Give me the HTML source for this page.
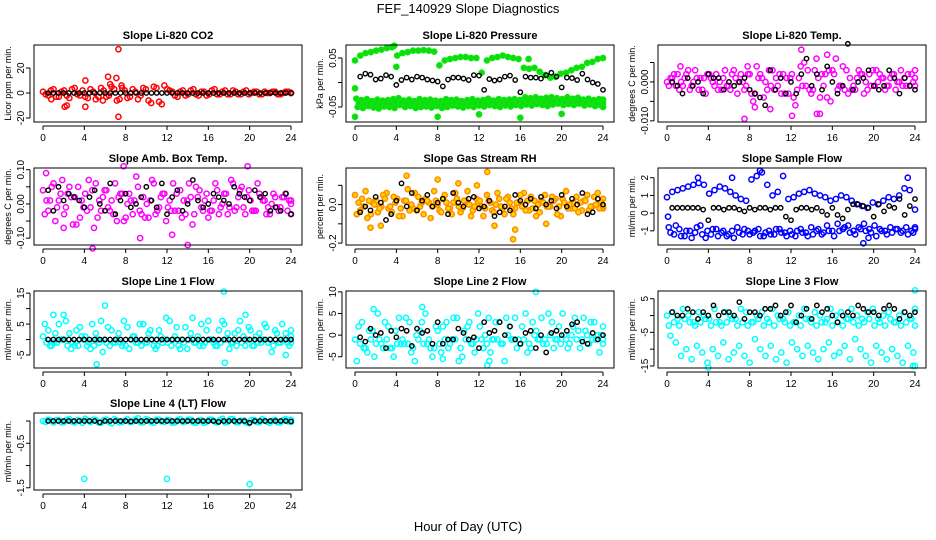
<!DOCTYPE html>
<html><head><meta charset="utf-8"><style>
body{margin:0;background:#fff;}
svg{display:block;font-family:"Liberation Sans",sans-serif;}
</style></head><body>
<svg id="c" width="936" height="540" viewBox="0 0 936 540">
<text x="468" y="13" text-anchor="middle" font-size="13">FEF_140929  Slope Diagnostics</text>
<text x="468" y="531" text-anchor="middle" font-size="13">Hour of Day (UTC)</text>
</svg>
<script>
const xTicks=[0,4,8,12,16,20,24];
// Panel 1 CO2
const co2A=[1,-2,3,-3,2,-4,4,-2,-3,3,-5,4,-3,5,-6,4,-4,3,-5,4,-6,5,-7,6,2,-2,1,-2,2,-1,1,-2,2,-1,1,-1,2,-1,1,-1,1,-1,1,0,1,-1,1,0];
const co2B=[-1,2,-3,1,-2,3,-1,2,-4,1,-3,2,-2,3,-5,2,-3,1,-2,3,-8,4,-9,3,1,-3,2,-1,3,-2,1,-1,3,-1,2,-1,1,-1,2,0,1,-1,0,1,-1,0,1,0];
const co2OutT=[7.3,7.3,6.3,7.1,4.1,4.1,2.1,2.3,0.8,6.5,7.6,5.8];
const co2OutV=[35,-19,13,12,10,-11,-11,-10,-5,7,6,-6];
const co2Blk=[0,0,0,0,0,0,0,0,0,0,0,0,0,0,0,0,0,0,0,0,0,0,0,0,0,0,0,0,0,0,0,0,0,0,0,0,0,0,0,0,0,0,0,0,0,0,0,0];
// Panel 2 Pressure
const prU=[0.045,0.055,0.06,0.062,0.065,0.067,0.07,0.072,0.055,0.06,0.062,0.065,0.065,0.066,0.065,0.063,0.035,0.045,0.048,0.05,0.052,0.052,0.05,0.05,0.02,0.045,0.05,0.052,0.055,0.052,0.05,0.048,0.03,0.028,0.03,0.022,0.015,0.01,0.012,0.018,0.02,0.025,0.03,0.032,0.04,0.042,0.048,0.05];
const prL1=[-0.033,-0.036,-0.034,-0.038,-0.035,-0.037,-0.036,-0.034,-0.032,-0.037,-0.035,-0.038,-0.034,-0.036,-0.035,-0.037,-0.038,-0.034,-0.036,-0.035,-0.038,-0.036,-0.034,-0.037,-0.036,-0.033,-0.037,-0.034,-0.036,-0.035,-0.034,-0.036,-0.03,-0.032,-0.03,-0.033,-0.031,-0.03,-0.032,-0.034,-0.03,-0.033,-0.031,-0.035,-0.033,-0.036,-0.034,-0.035];
const prL2=[-0.05,-0.052,-0.048,-0.051,-0.053,-0.049,-0.05,-0.052,-0.046,-0.05,-0.048,-0.052,-0.05,-0.049,-0.051,-0.048,-0.052,-0.05,-0.047,-0.049,-0.051,-0.048,-0.05,-0.047,-0.049,-0.046,-0.048,-0.05,-0.047,-0.049,-0.046,-0.048,-0.045,-0.047,-0.044,-0.046,-0.048,-0.045,-0.043,-0.046,-0.044,-0.046,-0.043,-0.047,-0.045,-0.048,-0.046,-0.049];
const prL3=[-0.042,-0.044,-0.041,-0.043,-0.045,-0.042,-0.044,-0.041,-0.04,-0.043,-0.042,-0.045,-0.041,-0.043,-0.042,-0.044,-0.045,-0.042,-0.041,-0.043,-0.044,-0.042,-0.043,-0.041,-0.042,-0.04,-0.043,-0.041,-0.042,-0.043,-0.04,-0.042,-0.038,-0.04,-0.037,-0.04,-0.039,-0.038,-0.037,-0.04,-0.038,-0.04,-0.037,-0.041,-0.039,-0.042,-0.04,-0.042];
const prOutT=[0,0,4,8,12,16,20,24,3.8,16.8];
const prOutV=[-0.07,-0.012,0.032,-0.07,-0.065,-0.072,-0.064,-0.05,0.075,0.048];
const prBlk=[0.012,0.018,0.016,0.006,0.008,0.015,0.012,-0.005,0.005,0.01,0.006,0.012,0.01,0.006,0.004,0.002,-0.008,0.006,0.01,0.01,0.008,0.005,0.015,0.014,-0.015,0.007,0.004,0.006,0.012,0.014,0.005,-0.02,0.012,0.01,0.01,0.008,0.015,0.02,0.012,-0.01,0.01,0.009,0.005,0.018,0.006,0,-0.003,-0.015];
// Panel 3 Li-820 Temp (x0.001)
const tmA=[0,1,2,-1,3,0,-2,1,2,-1,0,3,-2,1,2,-1,-3,4,1,-2,3,-1,2,-3,-4,1,5,-2,3,-4,2,-5,6,-1,3,-2,1,2,-2,3,0,1,-1,2,0,1,-1,3];
const tmB=[-1,2,-2,1,-2,3,1,-3,1,2,-2,-1,2,-3,0,2,-5,1,-4,3,-2,2,-3,1,-6,4,-1,-3,6,2,-4,3,-2,4,-3,-1,3,-3,2,-1,2,-2,1,-2,3,-1,2,-1];
const tmC=[1,-1,0,2,-1,1,-2,2,0,-2,1,-1,3,0,-2,2,-3,2,0,-1,1,-3,1,2,-2,-1,3,-2,1,-1,3,2,-1,-2,1,-2,2,0,-1,3,1,-1,2,0,-1,2,0,1];
const tmOutT=[7.5,12.1,14.5,14.8,13,15.5,10,8.5,7.8,1.3];
const tmOutV=[-9.5,-8.7,-8.2,-8.2,8.3,7,-7,-6.5,4,4];
const tmBlk=[0,-1,-3,1,-1,0,-3,2,1,1,-2,0,-1,0,1,-2,-3,-4,-6,3,-2,1,-3,0,-3,2,6,-1,2,-2,4,0,-3,-1,9.8,-2,0,1,3,-1,-2,-1,3,1,-3,1,-1,-2];
// Panel 4 Amb box temp (x0.01)
const amA=[4,-2,6,1,-3,5,2,-4,3,-1,6,-2,4,1,-5,3,0,-3,5,2,-4,6,-1,3,1,-2,4,-3,2,5,-1,3,-2,4,0,-3,6,2,-1,4,-2,3,1,-3,2,-1,3,0];
const amB=[-3,1,-5,3,-1,2,-6,1,-2,4,-4,2,-1,-3,2,-5,3,1,-2,-4,1,-3,2,-5,-2,3,-4,1,-6,2,-2,-4,1,-3,3,-1,-2,4,-3,1,-2,2,-3,0,-1,2,-2,1];
const amC=[1,5,-1,7,3,-6,5,-1,7,-7,1,4,-2,6,3,-4,1,8,-3,0,7,-2,3,-1,6,-2,1,6,-3,4,1,-2,6,-1,3,7,-1,5,2,-2,6,1,-1,3,-2,2,1,-3];
const amOutT=[0.3,7.8,19.8,4.8,9.4,14,12.5,2];
const amOutV=[9,11,11,-13,-10,-12,-9,-7];
const amBlk=[4,-2,5,1,3,2,1,-1,2,4,0,-2,6,-3,1,3,-1,0,2,5,1,-1,6,-3,2,4,-2,0,7,1,-1,0,3,2,1,0,5,3,2,1,4,2,3,-2,-1,-2,3,-3];
// Panel 5 RH (x0.01)
const rhA=[5,-3,7,-5,2,-1,6,-4,3,-6,8,-2,4,-5,1,7,-3,5,-2,6,-4,2,-6,3,-1,5,-3,6,-2,4,-5,1,6,-3,2,-4,5,-1,3,-6,7,-2,4,-3,5,-1,6,-2];
const rhB=[-5,3,-7,1,-4,5,-2,4,-6,2,-3,6,-1,3,-7,2,-4,1,-5,3,-2,7,-3,1,-6,2,-4,3,-5,1,-2,5,-3,4,-6,2,-1,4,-5,3,-2,1,-4,2,-3,4,-2,3];
const rhC=[1,-1,2,0,-2,3,-1,1,-2,2,0,-3,1,2,-1,0,3,-2,1,-1,2,0,-1,2,-2,1,0,-1,3,-2,1,-1,2,-2,0,1,-1,2,-1,1,0,-2,1,2,-1,0,1,-1];
const rhOutT=[5,12.8,15.3,15.5,1.5,2.5,13.5,18.5,8,10,11.8];
const rhOutV=[15,17,-18,-13,-12,-11,-11,-10,13,11,10];
const rhBlk=[-4,-1,-3,4,1,-8,-5,2,11,-1,6,-3,2,5,-1,1,3,-5,6,1,-1,3,4,-2,-1,2,-6,-4,-1,-3,5,2,0,3,-2,4,0,2,-2,5,-1,3,0,6,-5,-4,3,0];
// Panel 6 Sample flow
const sfU=[0.9,1.2,1.3,1.4,1.5,1.6,1.7,1.6,1.1,1.3,1.5,1.4,1.2,1.0,0.8,0.7,1.9,2.1,2.3,1.6,1.0,1.2,2.1,0.8,0.9,1.1,1.2,1.3,1.1,1.0,0.9,0.7,0.8,1.0,0.9,0.7,0.5,0.4,0.3,0.6,0.5,0.7,0.9,0.8,1.0,1.4,1.3,0.2];
const sfL1=[-0.8,-1.2,-0.9,-1.3,-1.0,-1.1,-0.7,-1.4,-1.2,-0.9,-1.1,-1.3,-1.0,-0.8,-1.2,-1.0,-1.1,-0.9,-1.3,-1.0,-1.2,-0.9,-1.1,-1.0,-1.3,-0.9,-1.1,-0.8,-1.0,-1.2,-0.7,-1.0,-0.6,-0.9,-0.7,-1.0,-0.8,-0.6,-0.9,-0.7,-0.9,-1.0,-0.8,-0.9,-1.1,-0.8,-1.0,-0.9];
const sfL2=[-1.1,-0.7,-1.3,-1.0,-1.4,-0.8,-1.2,-1.0,-0.9,-1.3,-1.0,-1.2,-1.4,-1.1,-0.9,-1.2,-1.0,-1.3,-1.1,-1.2,-0.9,-1.1,-1.3,-1.2,-1.0,-1.1,-1.3,-1.2,-0.9,-1.1,-1.0,-1.3,-1.0,-0.8,-1.1,-1.2,-0.9,-1.0,-1.1,-1.3,-1.0,-1.2,-1.1,-0.9,-1.0,-1.2,-1.1,-0.8];
const sfOutT=[0.1,19,19.5,23.3,6.3,3,9];
const sfOutV=[-0.2,-1.7,-1.4,2.0,2.0,2.0,2.4];
const sfBlk=[0.3,0.3,0.3,0.3,0.3,0.3,0.2,-0.4,0.3,0.3,0.2,0.3,0.3,0.2,0.1,0.3,0.2,0.3,0.3,0.2,0.3,0.3,-0.2,-0.4,0.2,0.3,0.3,0.2,0.3,0.1,-0.1,0.3,-0.1,-0.3,0.2,0.5,0.5,0.4,0.3,-0.2,0.5,0.1,0.4,0.3,0.8,-0.1,0.4,0.8];
// Panel 7 Line 1
const l1A=[1,3,-1,5,0,2,-2,4,1,-3,2,6,-1,3,0,-2,4,1,-1,5,2,-2,3,0,6,1,-3,4,2,-1,5,3,0,-2,6,2,-1,3,1,4,-2,2,5,0,3,-1,2,1];
const l1B=[5,-2,2,0,6,-3,3,1,-2,5,0,-4,4,-1,2,6,-3,1,5,-1,3,-3,1,7,-2,4,0,-3,7,1,-2,6,-1,3,5,-3,2,6,-2,3,1,-1,4,-4,2,5,-1,3];
const l1C=[-1,-2,-1,0,-2,-1,-2,0,-1,-2,-1,0,-2,-1,-1,-2,0,-1,-2,-1,0,-2,-1,-1,0,-2,-1,0,-1,-2,-1,0,-2,-1,0,-1,-2,-1,0,-2,-1,0,-1,-2,-1,0,-2,-1];
const l1OutT=[17.5,6,19.6,5.2,17.6,1,2,23.5];
const l1OutV=[15.5,11,8,-8,-7.5,8,8,-5];
const l1Blk=[0,0,0,0,0,0,0,0,0,0,0,0,0,0,0,0,0,0,0,0,0,0,0,0,0,0,0,0,0,0,0,0,0,0,0,0,0,0,0,0,0,0,0,0,0,0,0,0];
// Panel 8 Line 2
const l2A=[-1,-2,-3,-1,-2,-2,-1,-3,-2,-1,-2,-3,-1,-2,-1,-3,-2,-1,-2,-1,-3,-1,-2,-1,-1,-2,-1,-1,-2,0,-1,-1,-1,-2,0,-1,-1,0,-1,-2,-1,0,-1,-1,0,-1,0,-1];
const l2B=[-6,3,-4,1,5,-3,2,-5,4,-2,3,-6,1,5,-3,2,-4,3,-1,4,-5,2,-2,5,-3,4,-1,3,-6,2,4,-2,5,-3,1,4,-2,3,-1,5,-3,2,1,4,-2,3,-4,2];
const l2C=[2,-3,1,-5,-1,3,-3,1,-2,4,-4,0,3,-2,-5,1,2,-3,4,-6,1,3,-4,2,0,-4,3,-2,4,-1,-3,2,-4,3,-1,-2,5,-3,2,0,-2,4,-3,1,3,-1,0,-2];
const l2OutT=[17.5,12.8,13,8.5,1.8,6.5];
const l2OutV=[10,-7,-6,-5.5,6,6.5];
const l2Blk=[-0.5,-1.5,1.5,0,0.5,-3,1,-0.5,1.5,1,-2.5,1.5,0.5,1,-2,3,-2,-1,-1,1.5,0.5,-1,-0.5,-3,3,0.5,1,3,0,2,-1,-2,0.5,1,-3,0,-4,0.5,1,0,1,2.5,3,-1.5,-2,0.5,-1,0];
// Panel 9 Line 3
const l3A=[0,1,-1,2,0,-2,1,0,-1,2,-2,1,0,-1,2,1,-2,0,1,-1,2,0,-1,1,-2,0,2,-1,1,0,-2,2,0,1,-1,2,0,-1,1,2,-1,0,1,-2,0,1,-1,2];
const l3B=[-3,-2,-3,-1,-2,-3,-2,-1,-3,-2,-3,-2,-1,-3,-2,-3,-2,-1,-3,-2,-3,-1,-2,-3,-2,-3,-1,-2,-3,-2,-1,-3,-2,-3,-1,-2,-3,-2,-1,-3,-2,-3,-1,-2,-3,-2,-1,-3];
const l3C=[-6,-8,-12,-10,-13,-9,-11,-14,-10,-12,-8,-13,-11,-9,-12,-14,-7,-10,-12,-9,-13,-11,-14,-8,-10,-12,-9,-11,-13,-10,-8,-12,-11,-9,-13,-7,-10,-12,-14,-9,-11,-13,-10,-12,-14,-9,-11,-15];
const l3OutT=[4,23.8,24];
const l3OutV=[-15.5,-15,7.5];
const l3Blk=[1,0,0,2,1,-1,1,0,3,0,1,1,0,4,-1,1,1,0,2,2,3,0,1,3,-2,0,2,-1,3,1,2,0,-2,0,1,0,3,2,1,1,0,2,3,2,-1,1,0,1];
// Panel 10 Line 4
const l4A=[0,0.03,-0.03,0.02,-0.02,0.04,-0.03,0.01,0.05,-0.02,0.02,-0.04,0.03,-0.05,0.01,-0.02,0.04,-0.01,0.06,-0.03,0.02,-0.04,0.03,-0.02,0.02,-0.03,0.04,-0.01,0.03,-0.04,0.02,-0.02,0.03,-0.03,0.05,-0.02,0.04,-0.03,0.01,-0.05,0.02,-0.03,0.01,-0.04,0.02,-0.03,0.04,-0.02];
const l4B=[-0.02,0.01,0.02,-0.03,0.03,-0.01,0.02,-0.04,0.01,0.03,-0.03,0.02,-0.02,0.04,-0.03,0.01,-0.02,0.03,-0.03,0.04,-0.02,0.03,-0.01,0.02,-0.04,0.02,-0.02,0.03,-0.03,0.01,-0.04,0.03,-0.01,0.02,-0.03,0.04,-0.02,0.01,-0.03,0.02,-0.02,0.04,-0.02,0.01,-0.03,0.02,-0.01,0.03];
const l4OutT=[4,12,20];
const l4OutV=[-1.3,-1.3,-1.42];
const l4Blk=[0,0,0,0,0,0,0,0,0,0,-0.03,0,0,0,0,0,-0.01,0,0,0,0,0,0,0,0,0,0,0,0,0,0,0,0,-0.02,0,0,0,0,0,-0.04,0,0,0,0,0,0,0,-0.01];

const panels=[
 {id:'co2',title:'Slope Li-820 CO2',ylab:'Licor ppm per min.',col:0,row:0,top:38.4,bot:-23.2,ticks:[-20,0,20],tl:['-20','0','20'],c:'#ff0000',f:'none',bands:[co2A,co2B],oT:co2OutT,oV:co2OutV,blk:co2Blk},
 {id:'pressure',title:'Slope Li-820 Pressure',ylab:'kPa per min.',col:1,row:0,top:0.0765,bot:-0.0806,ticks:[-0.05,0,0.05],tl:['-0.05','','0.05'],c:'#00ee00',f:'#22cc22',bands:[prU,prL1,prL2,prL3],oT:prOutT,oV:prOutV,blk:prBlk},
 {id:'li820-temp',title:'Slope Li-820 Temp.',ylab:'degrees C per min.',col:2,row:0,top:9.5,bot:-10.3,ticks:[-10,-5,0,5],tl:['-0.010','','0.000',''],c:'#ff00ff',f:'none',bands:[tmA,tmB,tmC],oT:tmOutT,oV:tmOutV,blk:tmBlk},
 {id:'amb-box-temp',title:'Slope Amb. Box Temp.',ylab:'degrees C per min.',col:0,row:1,top:10.5,bot:-12,ticks:[-10,-5,0,5,10],tl:['-0.10','','0.00','','0.10'],c:'#ff00ff',f:'none',bands:[amA,amB,amC],oT:amOutT,oV:amOutV,blk:amBlk},
 {id:'gas-stream-rh',title:'Slope Gas Stream RH',ylab:'percent per min.',col:1,row:1,top:19,bot:-21,ticks:[-20,-10,0,10],tl:['-0.2','','0.0',''],c:'#ff8c00',f:'#ffd700',bands:[rhA,rhB,rhC],oT:rhOutT,oV:rhOutV,blk:rhBlk},
 {id:'sample-flow',title:'Slope Sample Flow',ylab:'ml/min per min.',col:2,row:1,top:2.55,bot:-1.8,ticks:[-1,0,1,2],tl:['-1','0','1','2'],c:'#0000ff',f:'none',bands:[sfU,sfL1,sfL2],oT:sfOutT,oV:sfOutV,blk:sfBlk},
 {id:'line1-flow',title:'Slope Line 1 Flow',ylab:'ml/min per min.',col:0,row:2,top:15.7,bot:-9.2,ticks:[-5,0,5,10,15],tl:['-5','','5','','15'],c:'#00ffff',f:'none',bands:[l1A,l1B,l1C],oT:l1OutT,oV:l1OutV,blk:l1Blk},
 {id:'line2-flow',title:'Slope Line 2 Flow',ylab:'ml/min per min.',col:1,row:2,top:10.2,bot:-7.6,ticks:[-5,0,5,10],tl:['-5','0','5','10'],c:'#00ffff',f:'none',bands:[l2A,l2B,l2C],oT:l2OutT,oV:l2OutV,blk:l2Blk},
 {id:'line3-flow',title:'Slope Line 3 Flow',ylab:'ml/min per min.',col:2,row:2,top:7.3,bot:-15.6,ticks:[-15,-10,-5,0,5],tl:['-15','','-5','','5'],c:'#00ffff',f:'none',bands:[l3A,l3B,l3C],oT:l3OutT,oV:l3OutV,blk:l3Blk},
 {id:'line4-flow',title:'Slope Line 4 (LT) Flow',ylab:'ml/min per min.',col:0,row:3,top:0.18,bot:-1.55,ticks:[-1.5,-1,-0.5,0],tl:['-1.5','','-0.5',''],c:'#00ffff',f:'none',bands:[l4A,l4B],oT:l4OutT,oV:l4OutV,blk:l4Blk}
];
const NS='http://www.w3.org/2000/svg';
const svg=document.getElementById('c');
const LEFTS=[34,346,658], TOPS=[45,168,291,413], W=268, H=77;
function mk(tag,attrs,parent){const e=document.createElementNS(NS,tag);for(const k in attrs)e.setAttribute(k,attrs[k]);parent.appendChild(e);return e;}
panels.forEach(p=>{
  const L=LEFTS[p.col],T=TOPS[p.row];
  const xs=t=>L+9+t*(248/24);
  const ys=v=>T+(p.top-v)/(p.top-p.bot)*H;
  const g=mk('g',{},svg);
  
  
  const ttl=mk('text',{x:L+W/2,y:T-6,'text-anchor':'middle','font-size':11,'font-weight':'bold'},g);
  ttl.textContent=p.title;
  
  
  const yl=mk('text',{transform:`translate(${L-23},${T+H/2}) rotate(-90)`,'text-anchor':'middle','font-size':9},g);
  yl.textContent=p.ylab;
  
  
  const pts=mk('g',{},g);
  
  
  p.bands.forEach((arr,k)=>{
    arr.forEach((v,i)=>{
      const t=Math.min(24,(i+k/p.bands.length)*24/(arr.length-1));
      const c=mk('circle',{cx:xs(t),cy:ys(v),r:2.6,fill:p.f,stroke:p.c,'stroke-width':1.5},pts);
      
      
    });
  });
  p.oT.forEach((t,i)=>{
    const c=mk('circle',{cx:xs(t),cy:ys(p.oV[i]),r:2.6,fill:p.f,stroke:p.c,'stroke-width':1.5},pts);
    
    
  });
  const bk=mk('g',{},g);
  
  
  p.blk.forEach((v,i)=>{
    const c=mk('circle',{cx:xs(0.5+i*0.5),cy:ys(v),r:2.2,fill:'none',stroke:'#000','stroke-width':1.4},bk);
    
    
  });
  const box=mk('rect',{x:L,y:T,width:W,height:H,fill:'none',stroke:'#000','stroke-width':1},g);
  
  
  const xa=mk('g',{},g);
  
  
  mk('line',{x1:xs(0),x2:xs(24),y1:T+H+4,y2:T+H+4,stroke:'#000'},xa);
  xTicks.forEach(t=>{
    mk('line',{x1:xs(t),x2:xs(t),y1:T+H+4,y2:T+H+8,stroke:'#000'},xa);
    const tx=mk('text',{x:xs(t),y:T+H+19,'text-anchor':'middle','font-size':10},xa);
    tx.textContent=t;
  });
  const ya=mk('g',{},g);
  
  
  mk('line',{x1:L-4,x2:L-4,y1:ys(p.ticks[0]),y2:ys(p.ticks[p.ticks.length-1]),stroke:'#000'},ya);
  p.ticks.forEach((v,i)=>{
    mk('line',{x1:L-8,x2:L-4,y1:ys(v),y2:ys(v),stroke:'#000'},ya);
    if(p.tl[i]){const tx=mk('text',{transform:`translate(${L-10},${ys(v)}) rotate(-90)`,'text-anchor':'middle','font-size':10},ya);tx.textContent=p.tl[i];}
  });
});
</script>
</body></html>
